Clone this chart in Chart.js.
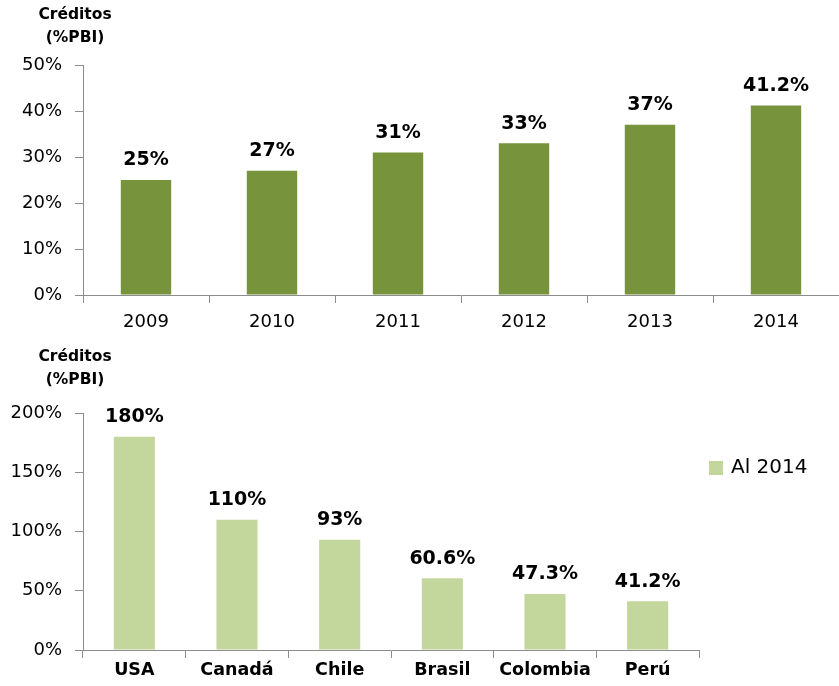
<!DOCTYPE html>
<html>
<head>
<meta charset="utf-8">
<script src="https://cdn.jsdelivr.net/npm/chart.js@4/dist/chart.umd.min.js"></script>
<style>
    body { margin: 0; background: #fff; }
    #wrap { position: relative; width: 839px; height: 686px; }
    .box { position: absolute; left: 0; width: 839px; }
</style>
</head>
<body>
<div id="wrap">
    <div class="box" style="top:0;height:340px"><canvas id="top"></canvas></div>
    <div class="box" style="top:340px;height:346px"><canvas id="bottom"></canvas></div>
</div>
<script>
// data
var years = ['2009', '2010', '2011', '2012', '2013', '2014'];
var yearValues = [25, 27, 31, 33, 37, 41.2];
var countries = ['USA', 'Canadá', 'Chile', 'Brasil', 'Colombia', 'Perú'];
var countryValues = [180, 110, 93, 60.6, 47.3, 41.2];
var seriesName = 'Al 2014';
var axisTitle = ['Créditos', '(%PBI)'];

var FONT = '"DejaVu Sans", sans-serif';
var AXIS = '#8c8c8c';

function pct(v) {
    return (Number.isInteger(v) ? v : v.toFixed(1)) + '%';
}

// draws the value on top of each bar + the small axis title (+ legend)
var labelsPlugin = {
    id: 'barLabels',
    afterDatasetsDraw(chart, args, opts) {
        var ctx = chart.ctx;
        ctx.save();
        ctx.fillStyle = '#000';
        ctx.textAlign = 'center';
        ctx.textBaseline = 'bottom';
        ctx.font = 'bold 19px ' + FONT;
        var meta = chart.getDatasetMeta(0);
        meta.data.forEach(function (bar, i) {
            ctx.fillText(pct(chart.data.datasets[0].data[i]), bar.x, bar.y - 10);
        });
        ctx.font = 'bold 15.5px ' + FONT;
        ctx.textBaseline = 'middle';
        ctx.fillText(axisTitle[0], opts.titleX, opts.titleY);
        ctx.fillText(axisTitle[1], opts.titleX, opts.titleY + 23);
        if (opts.legend) {
            var ds = chart.data.datasets[0];
            ctx.fillStyle = ds.backgroundColor;
            ctx.fillRect(opts.legend.x, opts.legend.y - 7, 14, 14);
            ctx.fillStyle = '#000';
            ctx.textAlign = 'left';
            ctx.font = '20px ' + FONT;
            ctx.fillText(ds.label, opts.legend.x + 22, opts.legend.y);
        }
        ctx.restore();
    }
};

function makeChart(id, labels, values, color, opt) {
    return new Chart(document.getElementById(id), {
        type: 'bar',
        data: {
            labels: labels,
            datasets: [{ label: opt.name, data: values, backgroundColor: color, borderWidth: 0, categoryPercentage: 1, barPercentage: 0.4 }]
        },
        options: {
            responsive: true,
            maintainAspectRatio: false,
            animation: false,
            layout: { padding: { top: opt.top, right: opt.right, left: 0, bottom: 0 } },
            plugins: {
                legend: { display: false },
                tooltip: { enabled: false },
                barLabels: { titleX: 75, titleY: opt.titleY, legend: opt.legend }
            },
            scales: {
                x: {
                    grid: { drawOnChartArea: false, tickLength: 8, color: AXIS },
                    border: { color: AXIS },
                    ticks: { color: '#000', font: { family: FONT, size: opt.xBold ? 17.5 : 18, weight: opt.xBold ? 'bold' : 'normal' }, padding: opt.xpad },
                    afterFit: function (s) { s.height = opt.xh; }
                },
                y: {
                    min: 0, max: opt.max,
                    grid: { drawOnChartArea: false, tickLength: 8, color: AXIS },
                    border: { color: AXIS },
                    ticks: { stepSize: opt.step, color: '#000', font: { family: FONT, size: 18 }, padding: 13,
                        callback: function (v) { return v + '%'; } },
                    afterFit: function (s) { s.width = 83; }
                }
            }
        },
        plugins: [labelsPlugin]
    });
}

makeChart('top', years, yearValues, '#77933c',
    { name: 'Créditos', top: 65, right: 0, xh: 45, xpad: 9, max: 50, step: 10, titleY: 15, xBold: false });
makeChart('bottom', countries, countryValues, '#c3d69b',
    { name: seriesName, top: 73, right: 140, xh: 36, xpad: 2, max: 200, step: 50, titleY: 17, xBold: true,
      legend: { x: 709, y: 128 } });
</script>
</body>
</html>
